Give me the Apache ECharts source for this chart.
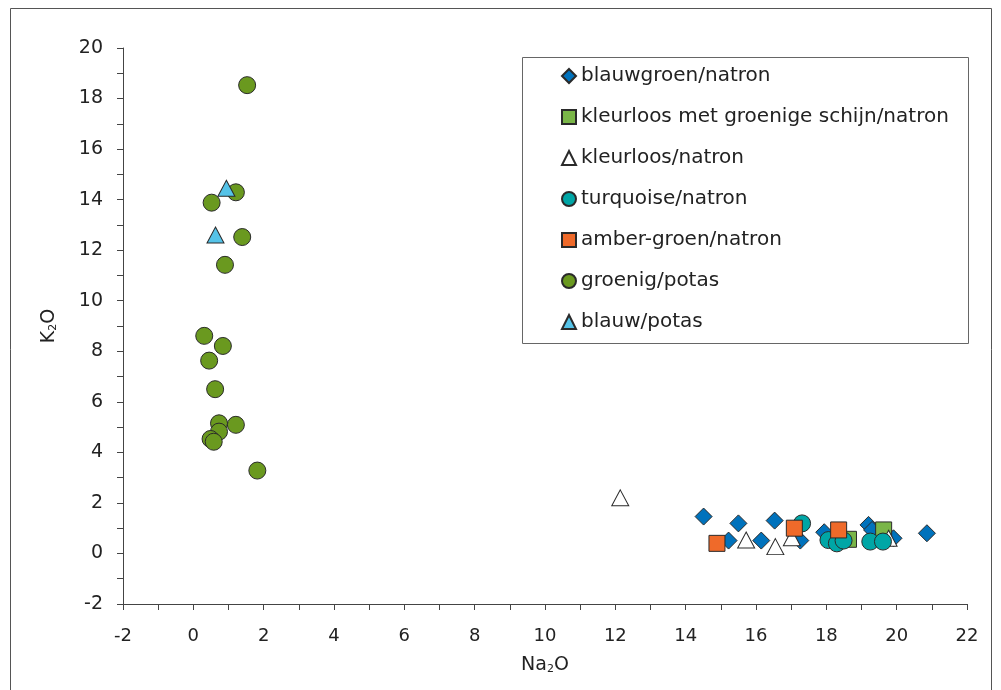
<!DOCTYPE html>
<html>
<head>
<meta charset="utf-8">
<script src="https://cdn.jsdelivr.net/npm/echarts@6/dist/echarts.min.js"></script>
<style>
html,body{margin:0;padding:0;background:#fff;}
#c{width:1001px;height:690px;}
</style>
</head>
<body>
<div id="c"></div>
<script>
// ---- data (Na2O, K2O) ----
const seriesNames = [
  'blauwgroen/natron',
  'kleurloos met groenige schijn/natron',
  'kleurloos/natron',
  'turquoise/natron',
  'amber-groen/natron',
  'groenig/potas',
  'blauw/potas'
];
const blauwgroenNatron = [[14.51,1.46],[15.22,0.51],[15.50,1.19],[16.15,0.51],[16.53,1.30],[17.26,0.51],[17.94,0.84],[18.25,0.70],[19.20,1.13],[19.30,0.93],[19.91,0.60],[20.86,0.80]];
const kleurloosGroenigNatron = [[18.63,0.56],[19.63,0.93]];
const kleurloosNatron = [[12.14,2.20],[15.72,0.53],[16.55,0.27],[17.02,0.62],[19.77,0.60]];
const turquoiseNatron = [[17.31,1.19],[18.06,0.53],[18.30,0.40],[18.49,0.51],[19.25,0.47],[19.61,0.47]];
const amberGroenNatron = [[14.89,0.40],[17.09,1.00],[18.35,0.93]];
const groenigPotas = [[1.53,18.53],[1.21,14.29],[0.52,13.88],[1.39,12.52],[0.90,11.42],[0.31,8.61],[0.84,8.21],[0.45,7.63],[0.62,6.50],[0.73,5.15],[1.21,5.09],[0.73,4.82],[0.49,4.53],[0.58,4.42],[1.82,3.28]];
const blauwPotas = [[0.94,14.45],[0.63,12.60]];
const xTicks = {min:-2, max:22, interval:2};
const yTicks = {min:-2, max:20, interval:2};

const FONT = '"DejaVu Sans", sans-serif';
const BORDER = '#2a2a2a';

function mk(name, data, symbol, size, color, z) {
  return {
    name: name, type: 'scatter', data: data, symbol: symbol, symbolSize: size, z: z,
    itemStyle: {color: color, borderColor: BORDER, borderWidth: 1, opacity: 1},
    emphasis: {disabled: true}
  };
}

const chart = echarts.init(document.getElementById('c'), null, {renderer: 'canvas'});
chart.setOption({
  animation: false,
  backgroundColor: '#fff',
  textStyle: {fontFamily: FONT},
  grid: {left: 123, right: 34, top: 48, bottom: 86, containLabel: false},
  xAxis: {
    type: 'value', min: xTicks.min, max: xTicks.max, interval: xTicks.interval,
    name: '{a|Na}{s|2}{a|O}', nameLocation: 'middle', nameGap: 52,
    nameTextStyle: {rich: {
      a: {fontFamily: FONT, fontSize: 19, color: '#222'},
      s: {fontFamily: FONT, fontSize: 11, color: '#222', verticalAlign: 'bottom', padding: [8,0,0,0]}
    }},
    axisLine: {onZero: false, lineStyle: {color: '#444', width: 1}},
    axisTick: {show: true, inside: false, length: 6, lineStyle: {color: '#444'}},
    minorTick: {show: true, splitNumber: 2, length: 6, lineStyle: {color: '#444'}},
    splitLine: {show: false},
    axisLabel: {fontFamily: FONT, fontSize: 18, color: '#222', margin: 23}
  },
  yAxis: {
    type: 'value', min: yTicks.min, max: yTicks.max, interval: yTicks.interval,
    name: '{a|K}{s|2}{a|O}', nameLocation: 'middle', nameGap: 64, nameRotate: 90,
    nameTextStyle: {rich: {
      a: {fontFamily: FONT, fontSize: 19, color: '#222'},
      s: {fontFamily: FONT, fontSize: 11, color: '#222', verticalAlign: 'bottom', padding: [8,0,0,0]}
    }},
    axisLine: {show: true, onZero: false, lineStyle: {color: '#444', width: 1}},
    axisTick: {show: true, inside: false, length: 6, lineStyle: {color: '#444'}},
    minorTick: {show: true, splitNumber: 2, length: 6, lineStyle: {color: '#444'}},
    splitLine: {show: false},
    axisLabel: {fontFamily: FONT, fontSize: 19, color: '#222', margin: 20}
  },
  legend: {
    orient: 'vertical', left: 561, top: 66, itemGap: 21, itemWidth: 14, itemHeight: 14,
    padding: 0,
    textStyle: {fontFamily: FONT, fontSize: 20, color: '#222', lineHeight: 20},
    data: seriesNames,
    selectedMode: false
  },
  graphic: [
    {type: 'rect', shape: {x: 10.5, y: 8.5, width: 981, height: 700}, style: {fill: 'none', stroke: '#555', lineWidth: 1}, silent: true, z: -10},
    {type: 'rect', shape: {x: 522.5, y: 57.5, width: 446, height: 286}, style: {fill: '#fff', stroke: '#666', lineWidth: 1}, silent: true, z: -5}
  ],
  series: [
    mk(seriesNames[0], blauwgroenNatron, 'diamond', 17, '#0072BC', 2),
    mk(seriesNames[1], kleurloosGroenigNatron, 'rect', 16, '#7AB648', 3),
    mk(seriesNames[2], kleurloosNatron, 'triangle', [17,16], '#ffffff', 4),
    mk(seriesNames[3], turquoiseNatron, 'circle', 17, '#00A6A6', 5),
    mk(seriesNames[4], amberGroenNatron, 'rect', 16, '#EF6A2A', 6),
    mk(seriesNames[5], groenigPotas, 'circle', 17, '#6A991F', 7),
    mk(seriesNames[6], blauwPotas, 'triangle', [17,16], '#55C3E8', 8)
  ]
});
</script>
</body>
</html>
